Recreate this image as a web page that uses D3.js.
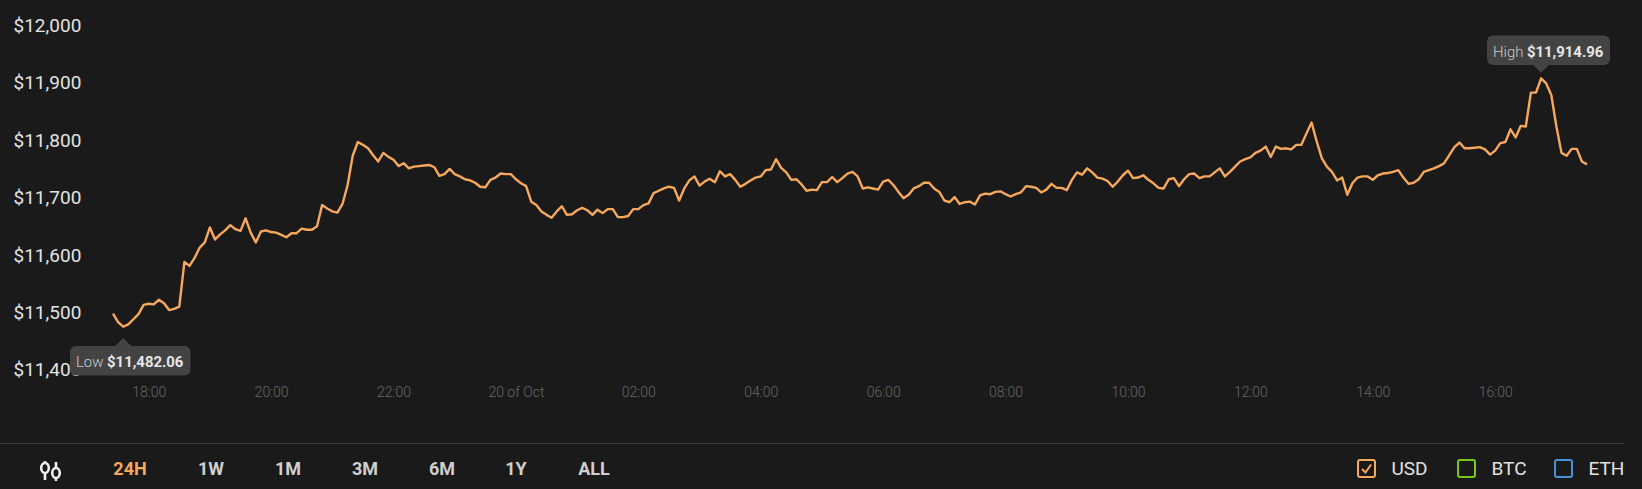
<!DOCTYPE html>
<html>
<head>
<meta charset="utf-8">
<script src="https://cdn.jsdelivr.net/npm/d3@7"></script>
<style>
  html, body { margin: 0; padding: 0; background: #1b1a1b; overflow: hidden; }
  text { font-family: Roboto, sans-serif; }
</style>
</head>
<body>
<svg id="chart"></svg>
<script>
// one reading every 5 minutes, from 17:25 on the 19th
let startTime = new Date(2020, 9, 19, 17, 25);
let stepMinutes = 5;
let prices = [
  11505,11490,11482,11486,11495,11504,11520,11522,11521,11529,
  11523,11511,11513,11517,11595,11588,11602,11620,11629,11655,
  11634,11643,11650,11659,11652,11649,11671,11646,11629,11648,
  11650,11647,11646,11642,11638,11645,11645,11653,11651,11651,
  11657,11694,11688,11683,11681,11696,11729,11780,11804,11799,
  11793,11781,11770,11785,11778,11773,11762,11767,11758,11761,
  11762,11763,11764,11760,11745,11748,11757,11748,11744,11739,
  11737,11733,11726,11725,11738,11742,11749,11748,11748,11739,
  11732,11727,11700,11694,11683,11677,11672,11683,11692,11677,
  11678,11685,11689,11685,11677,11686,11680,11687,11687,11673,
  11673,11675,11687,11687,11694,11697,11715,11719,11723,11726,
  11724,11702,11723,11737,11744,11728,11735,11740,11734,11753,
  11744,11748,11738,11726,11731,11737,11742,11744,11755,11756,
  11774,11759,11751,11738,11739,11730,11719,11721,11720,11734,
  11734,11743,11734,11741,11749,11752,11744,11723,11725,11723,
  11721,11735,11738,11729,11717,11706,11712,11723,11727,11733,
  11733,11723,11717,11702,11699,11708,11696,11699,11700,11695,
  11711,11714,11713,11717,11718,11713,11709,11713,11716,11727,
  11726,11724,11716,11721,11731,11724,11724,11720,11738,11751,
  11747,11758,11751,11742,11740,11736,11726,11735,11746,11754,
  11741,11742,11746,11738,11732,11724,11723,11739,11741,11727,
  11739,11748,11749,11741,11744,11744,11751,11758,11744,11752,
  11761,11770,11774,11777,11785,11789,11796,11778,11796,11792,
  11793,11791,11799,11799,11819,11838,11805,11776,11761,11752,
  11737,11742,11712,11732,11742,11744,11744,11738,11746,11749,
  11750,11752,11755,11742,11731,11733,11739,11752,11755,11758,
  11762,11767,11781,11795,11803,11793,11793,11794,11795,11791,
  11782,11789,11802,11804,11826,11812,11832,11831,11890,11890,
  11915,11906,11886,11831,11785,11780,11792,11792,11770,11765
];
let priceTicks = [11400, 11500, 11600, 11700, 11800, 11900, 12000];
let timeTicks = [
  new Date(2020, 9, 19, 18), new Date(2020, 9, 19, 20), new Date(2020, 9, 19, 22),
  new Date(2020, 9, 20, 0), new Date(2020, 9, 20, 2), new Date(2020, 9, 20, 4),
  new Date(2020, 9, 20, 6), new Date(2020, 9, 20, 8), new Date(2020, 9, 20, 10),
  new Date(2020, 9, 20, 12), new Date(2020, 9, 20, 14), new Date(2020, 9, 20, 16)
];
let ranges = ["24H", "1W", "1M", "3M", "6M", "1Y", "ALL"];
let rangeCenters = [130, 211, 288, 365, 442, 516, 594];
let currencies = ["USD", "BTC", "ETH"];
let currencyColors = ["#f6a85c", "#79c81f", "#4a90d9"];
let currencyBoxes = [1357, 1457, 1554];

let w = 1642, h = 489;
let svg = d3.select("#chart").attr("width", w).attr("height", h);

let data = prices.map((p, i) => ({
  time: new Date(startTime.getTime() + i * stepMinutes * 60000),
  price: p
}));

let x = d3.scaleTime()
  .domain(d3.extent(data, d => d.time))
  .range([113, 1587]);
let y = d3.scaleLinear()
  .domain([11500, 11915])
  .range([316.4, 78.3]);

// axes
let yAxis = d3.axisRight(y).tickValues(priceTicks).tickSize(0).tickPadding(0)
  .tickFormat(d => "$" + d3.format(",")(d));
let yG = svg.append("g").attr("transform", "translate(13.5,-4)").call(yAxis);
yG.select(".domain").remove();
yG.selectAll("text")
  .attr("font-family", "Roboto, sans-serif")
  .attr("font-size", 19)
  .attr("font-weight", 400)
  .attr("fill", "#e2e2e2");

let xAxis = d3.axisBottom(x).tickValues(timeTicks).tickSize(0).tickPadding(0)
  .tickFormat(d => d.getHours() === 0 ? d.getDate() + " of Oct" : d3.timeFormat("%H:%M")(d));
let xG = svg.append("g").attr("transform", "translate(0,387)").call(xAxis);
xG.select(".domain").remove();
xG.selectAll("text")
  .attr("font-family", "Roboto, sans-serif")
  .attr("font-size", 14)
  .attr("font-weight", 300)
  .attr("fill", "#666666");

// price line
let line = d3.line().x(d => x(d.time)).y(d => y(d.price));
svg.append("path")
  .datum(data)
  .attr("d", line)
  .attr("fill", "none")
  .attr("stroke", "#f6a85c")
  .attr("stroke-width", 2.4)
  .attr("stroke-linejoin", "round");

// low and high flags
function flag(label, value, point, rectX, rectW, rectY, tipY) {
  let g = svg.append("g");
  let rectH = 29.5;
  let tx = x(point.time);
  let baseY = tipY < rectY ? rectY : rectY + rectH;
  g.append("path")
    .attr("d", `M${tx - 8},${baseY} L${tx},${tipY} L${tx + 8},${baseY} Z`)
    .attr("fill", "#434343");
  g.append("rect")
    .attr("x", rectX).attr("y", rectY)
    .attr("width", rectW).attr("height", rectH)
    .attr("rx", 6)
    .attr("fill", "#434343");
  let t = g.append("text")
    .attr("x", rectX + 6)
    .attr("y", rectY + 21)
    .attr("font-size", 14.9);
  t.append("tspan").attr("font-weight", 300).attr("fill", "#cccccc").text(label + " ");
  t.append("tspan").attr("font-weight", 700).attr("fill", "#e6e6e6").text(value);
}
let lowPoint = data[d3.minIndex(data, d => d.price)];
let highPoint = data[d3.maxIndex(data, d => d.price)];
flag("Low", "$11,482.06", lowPoint, 70, 120.5, 346, 338);
flag("High", "$11,914.96", highPoint, 1487, 123, 35.5, 72.7);

// bottom bar
svg.append("line")
  .attr("x1", 0).attr("x2", 1625)
  .attr("y1", 443.5).attr("y2", 443.5)
  .attr("stroke", "#3b3a3b");

// candle icon
let icon = svg.append("g")
  .attr("fill", "none")
  .attr("stroke", "#f0f0f0")
  .attr("stroke-width", 2.6);
icon.append("path").attr("d", "M45,461V480M56,462V481");
icon.append("ellipse").attr("cx", 45).attr("cy", 468).attr("rx", 3.8).attr("ry", 5).attr("fill", "#1b1a1b");
icon.append("ellipse").attr("cx", 56).attr("cy", 473).attr("rx", 3.8).attr("ry", 5).attr("fill", "#1b1a1b");

svg.selectAll(".range")
  .data(ranges)
  .enter()
  .append("text")
  .attr("class", "range")
  .attr("x", (d, i) => rangeCenters[i])
  .attr("y", 475)
  .attr("text-anchor", "middle")
  .attr("font-size", 18)
  .attr("font-weight", 700)
  .attr("fill", (d, i) => i === 0 ? "#f6a85c" : "#cfcfcf")
  .text(d => d);

// currency toggles
let toggles = svg.selectAll(".toggle")
  .data(currencies)
  .enter()
  .append("g")
  .attr("class", "toggle")
  .attr("transform", (d, i) => `translate(${currencyBoxes[i]},459)`);
toggles.append("rect")
  .attr("x", 1).attr("y", 1)
  .attr("width", 17).attr("height", 17)
  .attr("rx", 2)
  .attr("fill", "none")
  .attr("stroke", (d, i) => currencyColors[i])
  .attr("stroke-width", 2);
toggles.append("text")
  .attr("x", 34.5)
  .attr("y", 16)
  .attr("font-size", 19)
  .attr("font-weight", 400)
  .attr("fill", "#e2e2e2")
  .text(d => d);
toggles.filter((d, i) => i === 0)
  .append("path")
  .attr("d", "M5,10 L8.5,13.5 L14,5.5")
  .attr("fill", "none")
  .attr("stroke", currencyColors[0])
  .attr("stroke-width", 2);
</script>
</body>
</html>
